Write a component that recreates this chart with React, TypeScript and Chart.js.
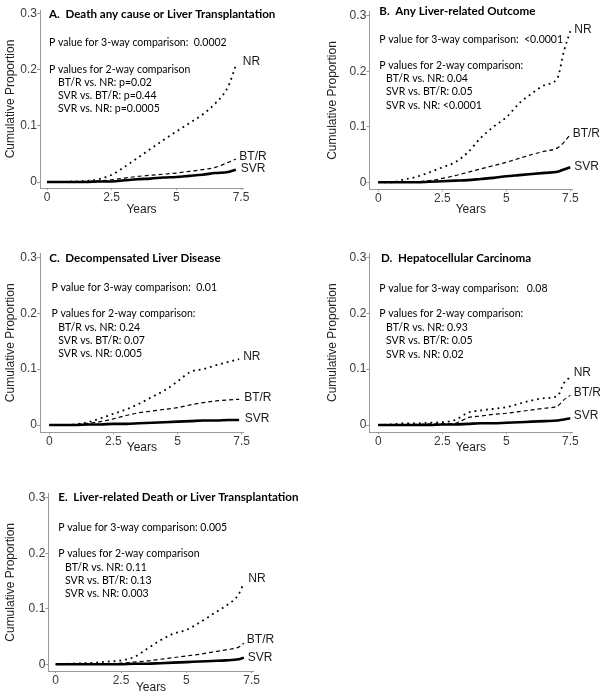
import React, { useEffect, useRef } from 'react';
import { Chart, registerables } from 'chart.js';

Chart.register(...registerables);

// ---------- axis ticks ----------
const X_TICKS = [0, 2.5, 5, 7.5];
const X_TICK_LABELS = ['0', '2.5', '5', '7.5'];
const Y_TICKS = [0, 0.1, 0.2, 0.3];
const Y_TICK_LABELS = ['0', '0.1', '0.2', '0.3'];
const SERIES_NAMES = ['NR', 'BT/R', 'SVR'];
const X_TITLE = 'Years';
const Y_TITLE = 'Cumulative Proportion';

// ---------- A. Death any cause or Liver Transplantation ----------
const YEARS_A = [0, 0.5, 1, 1.5, 2, 2.5, 3, 3.5, 4, 4.5, 5, 5.5, 6, 6.5, 7, 7.3];
const NR_A = [0, 0, 0.001, 0.002, 0.005, 0.013, 0.027, 0.043, 0.059, 0.075, 0.09, 0.105, 0.12, 0.14, 0.17, 0.208];
const BTR_A = [0, 0, 0, 0.001, 0.002, 0.004, 0.007, 0.01, 0.012, 0.014, 0.016, 0.019, 0.022, 0.026, 0.035, 0.041];
const SVR_A = [0, 0, 0, 0, 0.001, 0.001, 0.003, 0.005, 0.006, 0.008, 0.009, 0.011, 0.013, 0.016, 0.018, 0.022];

// ---------- B. Any Liver-related Outcome ----------
const YEARS_B = [0, 0.5, 1, 1.5, 2, 2.5, 3, 3.5, 4, 4.5, 5, 5.5, 6, 6.5, 7, 7.25, 7.5];
const NR_B = [0, 0, 0.005, 0.01, 0.018, 0.027, 0.036, 0.054, 0.08, 0.1, 0.117, 0.142, 0.16, 0.175, 0.188, 0.236, 0.272];
const BTR_B = [0, 0, 0, 0.001, 0.003, 0.007, 0.012, 0.018, 0.024, 0.03, 0.036, 0.043, 0.05, 0.056, 0.062, 0.072, 0.086];
const SVR_B = [0, 0, 0, 0, 0.001, 0.002, 0.003, 0.004, 0.006, 0.008, 0.011, 0.013, 0.015, 0.017, 0.019, 0.023, 0.027];

// ---------- C. Decompensated Liver Disease ----------
const YEARS_C = [0, 0.5, 1, 1.5, 2, 2.5, 3, 3.5, 4, 4.5, 5, 5.5, 6, 6.5, 7, 7.4];
const NR_C = [0, 0, 0.001, 0.005, 0.012, 0.02, 0.028, 0.038, 0.05, 0.062, 0.078, 0.095, 0.1, 0.107, 0.113, 0.118];
const BTR_C = [0, 0, 0.001, 0.003, 0.006, 0.011, 0.017, 0.022, 0.025, 0.028, 0.031, 0.036, 0.04, 0.043, 0.045, 0.046];
const SVR_C = [0, 0, 0, 0.001, 0.001, 0.002, 0.002, 0.003, 0.004, 0.005, 0.006, 0.007, 0.008, 0.008, 0.009, 0.009];

// ---------- D. Hepatocellular Carcinoma ----------
const YEARS_D = [0, 0.5, 1, 1.5, 2, 2.5, 3, 3.5, 4, 4.5, 5, 5.5, 6, 6.5, 7, 7.25, 7.5];
const NR_D = [0, 0.001, 0.003, 0.003, 0.004, 0.005, 0.009, 0.022, 0.026, 0.029, 0.032, 0.038, 0.044, 0.048, 0.052, 0.075, 0.086];
const BTR_D = [0, 0, 0.001, 0.001, 0.002, 0.002, 0.003, 0.013, 0.016, 0.019, 0.021, 0.024, 0.027, 0.03, 0.034, 0.045, 0.053];
const SVR_D = [0, 0, 0, 0, 0, 0.001, 0.001, 0.002, 0.003, 0.003, 0.004, 0.005, 0.006, 0.007, 0.008, 0.01, 0.012];

// ---------- E. Liver-related Death or Liver Transplantation ----------
const YEARS_E = [0, 0.5, 1, 1.5, 2, 2.5, 3, 3.5, 4, 4.5, 5, 5.5, 6, 6.5, 7, 7.2];
const NR_E = [0, 0.001, 0.002, 0.003, 0.005, 0.007, 0.013, 0.028, 0.043, 0.055, 0.062, 0.075, 0.09, 0.105, 0.126, 0.147];
const BTR_E = [0, 0, 0, 0, 0.001, 0.002, 0.004, 0.006, 0.009, 0.012, 0.015, 0.018, 0.022, 0.026, 0.031, 0.038];
const SVR_E = [0, 0, 0, 0, 0, 0, 0.001, 0.001, 0.002, 0.003, 0.004, 0.005, 0.006, 0.007, 0.009, 0.012];

// ---------- panel texts ----------
const TITLES = [
  'A.  Death any cause or Liver Transplantation',
  'B.  Any Liver-related Outcome',
  'C.  Decompensated Liver Disease',
  'D.  Hepatocellular Carcinoma',
  'E.  Liver-related Death or Liver Transplantation',
];
const P3_TEXTS = [
  'P value for 3-way comparison:  0.0002',
  'P value for 3-way comparison:  <0.0001',
  'P value for 3-way comparison:  0.01',
  'P value for 3-way comparison:   0.08',
  'P value for 3-way comparison: 0.005',
];
const P2_HEADS = [
  'P values for 2-way comparison',
  'P values for 2-way comparison:',
  'P values for 2-way comparison:',
  'P values for 2-way comparison:',
  'P values for 2-way comparison',
];
const P2_LINES = [
  ['BT/R vs. NR: p=0.02', 'SVR vs. BT/R: p=0.44', 'SVR vs. NR: p=0.0005'],
  ['BT/R vs. NR: 0.04', 'SVR vs. BT/R: 0.05', 'SVR vs. NR: <0.0001'],
  ['BT/R vs. NR: 0.24', 'SVR vs. BT/R: 0.07', 'SVR vs. NR: 0.005'],
  ['BT/R vs. NR: 0.93', 'SVR vs. BT/R: 0.05', 'SVR vs. NR: 0.02'],
  ['BT/R vs. NR: 0.11', 'SVR vs. BT/R: 0.13', 'SVR vs. NR: 0.003'],
];

const SERIES = [
  { years: YEARS_A, nr: NR_A, btr: BTR_A, svr: SVR_A },
  { years: YEARS_B, nr: NR_B, btr: BTR_B, svr: SVR_B },
  { years: YEARS_C, nr: NR_C, btr: BTR_C, svr: SVR_C },
  { years: YEARS_D, nr: NR_D, btr: BTR_D, svr: SVR_D },
  { years: YEARS_E, nr: NR_E, btr: BTR_E, svr: SVR_E },
];

// ---------- layout (pixels, per panel canvas) ----------
const LAYOUT = [
  { left: 0, top: 0, w: 301, h: 220, axisX: 40, x0: 47, x75: 241, y0: 182, y03: 14, xAxisY: 188, yTitleX: 10.5, yearsY: 209.5,
    titleX: 49, titleY: 14, pX: 49, p3Y: 43, p2Y: 70, indentX: 58, lineY: [82.5, 95.5, 108.5],
    lab: [[7, -3.5], [3.5, -2.3], [5, -1.4]] },
  { left: 301, top: 0, w: 301, h: 220, axisX: 68.3, x0: 77.3, x75: 269.3, y0: 182.3, y03: 15.7, xAxisY: 189.3, yTitleX: 32, yearsY: 209.3,
    titleX: 78.3, titleY: 11, pX: 78.3, p3Y: 40, p2Y: 66, indentX: 85, lineY: [79, 92, 105.5],
    lab: [[4, -1.3], [2.4, -1.2], [4, -0.6]] },
  { left: 0, top: 220, w: 301, h: 240, axisX: 40, x0: 49.3, x75: 241.7, y0: 205, y03: 37.3, xAxisY: 212.3, yTitleX: 10.8, yearsY: 228,
    titleX: 49.3, titleY: 38, pX: 51.5, p3Y: 68, p2Y: 94, indentX: 58.3, lineY: [108, 121, 134],
    lab: [[4, -2.2], [5, -2], [5.7, -1.7]] },
  { left: 301, top: 220, w: 301, h: 240, axisX: 68.3, x0: 77.3, x75: 269.3, y0: 205, y03: 37.3, xAxisY: 212, yTitleX: 31.7, yearsY: 228,
    titleX: 80, titleY: 38, pX: 78.3, p3Y: 69, p2Y: 94, indentX: 85, lineY: [108, 121, 135],
    lab: [[3.4, -4.5], [3.4, -3], [3.4, -2.3]] },
  { left: 0, top: 460, w: 301, h: 236, axisX: 48.3, x0: 55.7, x75: 251.7, y0: 204.3, y03: 37.7, xAxisY: 211, yTitleX: 10.8, yearsY: 227.3,
    titleX: 58.3, titleY: 37, pX: 58.3, p3Y: 68, p2Y: 94, indentX: 65, lineY: [108, 121, 134],
    lab: [[4.5, -3.7], [3, -3.9], [4, -0.3]] },
];

const AXIS_COLOR = '#9a9a9a';
const TICK_COLOR = '#3a3a3a';
const TEXT_FONT = 'Lato, "Open Sans", sans-serif';
const ARIAL = '"Liberation Sans", Arial, sans-serif';

function Panel({ idx }: { idx: number }) {
  const ref = useRef<HTMLCanvasElement | null>(null);
  const L = LAYOUT[idx];
  useEffect(() => {
    if (!ref.current) return;
    const s = SERIES[idx];
    const ppy = (L.x75 - L.x0) / 7.5;
    const right = L.x75 + 2;
    const xmin = -(L.x0 - L.axisX) / ppy;
    const xmax = 7.5 + (right - L.x75) / ppy;
    const ppu = (L.y0 - L.y03) / 0.3;
    const topPx = L.y03 - 4;
    const ymin = -(L.xAxisY - L.y0) / ppu;
    const ymax = 0.3 + (L.y03 - topPx) / ppu;

    const mk = (arr: number[]) => s.years.map((x, i) => ({ x, y: arr[i] }));

    const overlay = {
      id: 'overlay',
      afterDraw(chart: any) {
        const ctx = chart.ctx as CanvasRenderingContext2D;
        ctx.save();
        ctx.fillStyle = '#000';
        ctx.textBaseline = 'middle';
        ctx.textAlign = 'left';
        ctx.font = `bold 11.6px ${TEXT_FONT}`;
        ctx.fillText(TITLES[idx], L.titleX, L.titleY);
        ctx.font = `10.5px ${TEXT_FONT}`;
        ctx.fillText(P3_TEXTS[idx], L.pX, L.p3Y);
        ctx.fillText(P2_HEADS[idx], L.pX, L.p2Y);
        P2_LINES[idx].forEach((t, i) => ctx.fillText(t, L.indentX, L.lineY[i]));

        ctx.font = `12px ${ARIAL}`;
        ctx.fillStyle = '#1a1a1a';
        chart.data.datasets.forEach((_ds: any, i: number) => {
          const meta = chart.getDatasetMeta(i);
          const pt = meta.data[meta.data.length - 1];
          ctx.fillText(SERIES_NAMES[i], pt.x + L.lab[i][0], pt.y + L.lab[i][1]);
        });
        ctx.restore();
      },
    };

    const tickFont = { family: ARIAL, size: 12 };
    const chart = new Chart(ref.current, {
      type: 'line',
      data: {
        datasets: [
          { label: SERIES_NAMES[0], data: mk(s.nr), borderColor: '#000', borderWidth: 1.8, borderDash: [1.8, 4], pointRadius: 0, cubicInterpolationMode: 'monotone', fill: false },
          { label: SERIES_NAMES[1], data: mk(s.btr), borderColor: '#000', borderWidth: 1.2, borderDash: [4, 3], pointRadius: 0, cubicInterpolationMode: 'monotone', fill: false },
          { label: SERIES_NAMES[2], data: mk(s.svr), borderColor: '#000', borderWidth: 2.6, pointRadius: 0, cubicInterpolationMode: 'monotone', fill: false },
        ],
      },
      options: {
        responsive: false,
        animation: false,
        events: [],
        layout: { padding: { left: 0, top: topPx, right: L.w - right, bottom: 0 } },
        plugins: { legend: { display: false }, tooltip: { enabled: false }, title: { display: false } },
        scales: {
          x: {
            type: 'linear',
            min: xmin,
            max: xmax,
            afterBuildTicks: (sc: any) => { sc.ticks = X_TICKS.map((v) => ({ value: v })); },
            afterFit: (sc: any) => { sc.height = L.h - L.xAxisY; },
            ticks: { callback: (_v: any, i: number) => X_TICK_LABELS[i], font: tickFont, color: TICK_COLOR, padding: 0, maxRotation: 0, autoSkip: false },
            grid: { drawOnChartArea: false, drawTicks: true, tickLength: 2, color: AXIS_COLOR },
            border: { display: true, color: AXIS_COLOR, width: 1 },
            title: { display: true, text: X_TITLE, font: tickFont, color: '#222', padding: { top: 0, bottom: L.h - 7.2 - L.yearsY } },
          },
          y: {
            type: 'linear',
            min: ymin,
            max: ymax,
            afterBuildTicks: (sc: any) => { sc.ticks = Y_TICKS.map((v) => ({ value: v })); },
            afterFit: (sc: any) => { sc.width = L.axisX; },
            ticks: { callback: (_v: any, i: number) => Y_TICK_LABELS[i], font: tickFont, color: TICK_COLOR, padding: 0 },
            grid: { drawOnChartArea: false, drawTicks: true, tickLength: 3, color: AXIS_COLOR },
            border: { display: true, color: AXIS_COLOR, width: 1 },
            title: { display: true, text: Y_TITLE, font: tickFont, color: '#222', padding: { top: L.yTitleX - 7.2, bottom: 0 } },
          },
        },
      },
      plugins: [overlay],
    } as any);
    return () => chart.destroy();
  }, [idx]);

  return (
    <canvas
      ref={ref}
      width={L.w}
      height={L.h}
      style={{ position: 'absolute', left: L.left, top: L.top, width: L.w, height: L.h }}
    />
  );
}

export default function App() {
  return (
    <div style={{ position: 'absolute', left: 0, top: 0, width: 602, height: 696, background: '#fff', overflow: 'hidden' }}>
      {LAYOUT.map((_, i) => (
        <Panel key={i} idx={i} />
      ))}
    </div>
  );
}
